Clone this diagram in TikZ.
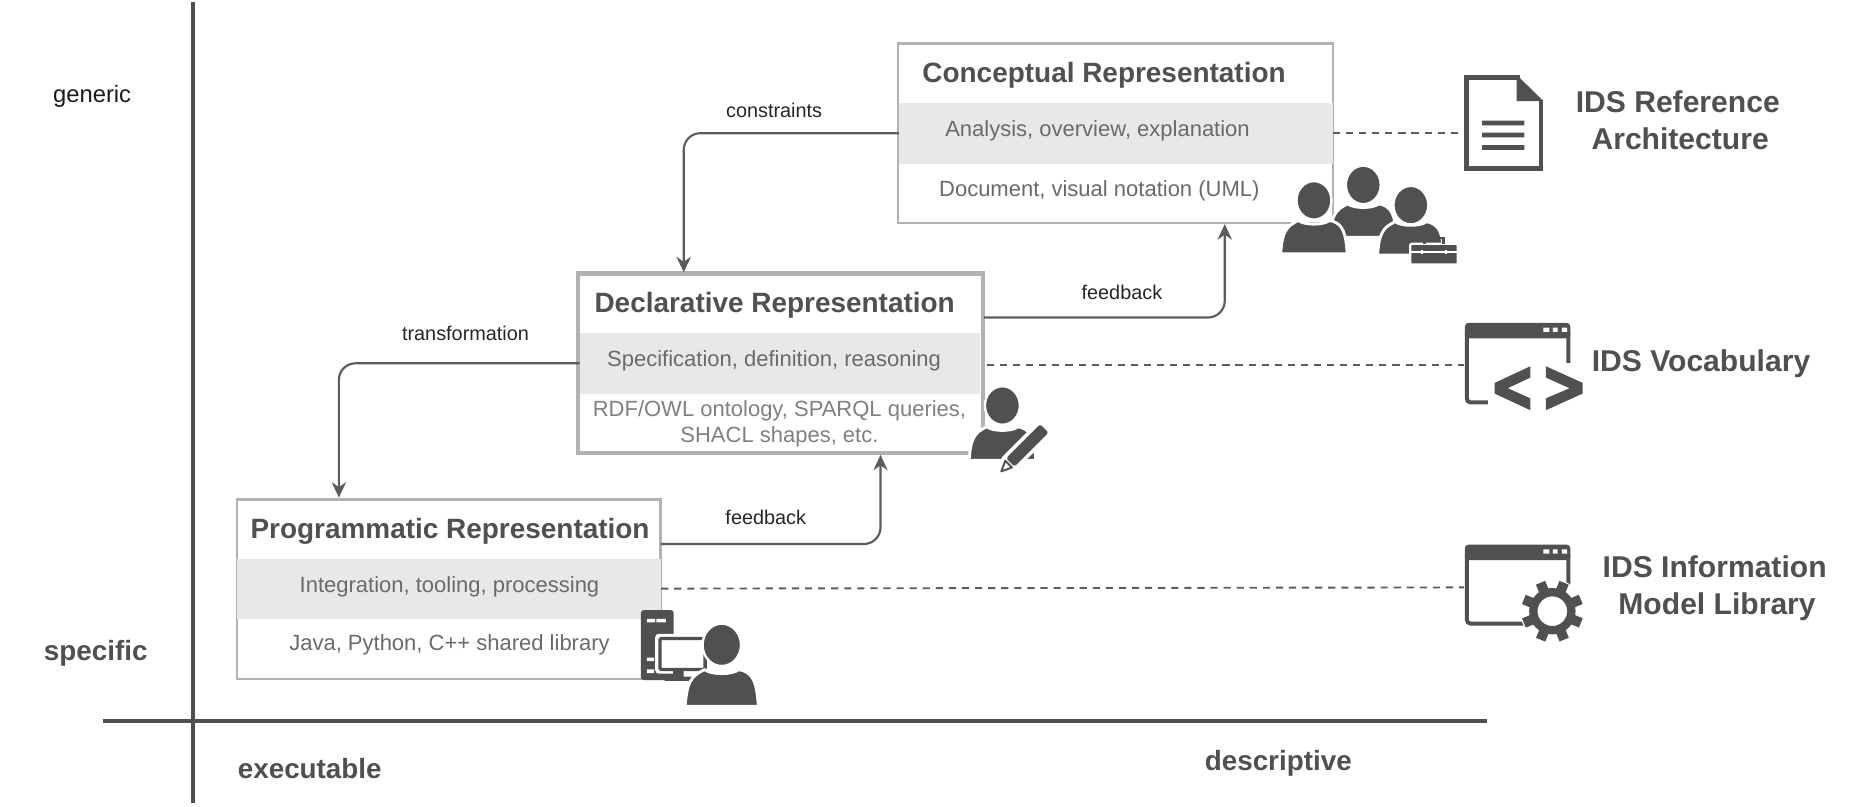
\documentclass[tikz,border=0pt]{standalone}
\usepackage{fontspec}
\setmainfont{Liberation Sans}
\usetikzlibrary{arrows.meta}
\definecolor{iconc}{HTML}{505050}
\definecolor{bandc}{HTML}{E8E8E8}
\definecolor{edgec}{HTML}{B2B2B2}
\definecolor{connc}{HTML}{5C5C5C}
\definecolor{bodyc}{HTML}{6A6A6A}
\newcommand{\fsz}[1]{\fontsize{#1}{#1}\selectfont}
\tikzset{
  repbox/.style={draw=edgec,line width=2pt,fill=white,anchor=north west,inner sep=0pt,outer sep=0pt},
  band/.style={fill=bandc,anchor=north west,inner sep=0pt,outer sep=0pt},
  title/.style={font=\fsz{23.5}\bfseries,text=iconc,inner sep=0pt},
  bodytext/.style={font=\fsz{18.5},text=bodyc,inner sep=0pt,align=center},
  edgelabel/.style={font=\fsz{16.7},text=black!85,inner sep=0pt},
  axislabel/.style={font=\fsz{23.4}\bfseries,text=iconc,inner sep=0pt},
  toollabel/.style={font=\fsz{25.3}\bfseries,text=iconc,inner sep=0pt,align=center},
  conn/.style={draw=connc,line width=1.8pt,rounded corners=14pt,-{Stealth[length=13pt,width=12pt]}},
  dashlink/.style={draw=connc,line width=1.6pt,dash pattern=on 6pt off 5pt},
  axisline/.style={draw=iconc,line width=3.4pt},
  anchorbox/.style={inner sep=0pt,outer sep=0pt},
  person/.pic={
    \path[fill=iconc,draw=white,line width=2.4pt] (-28,0) .. controls (-27,-12) and (-26,-21) .. (-17,-26) .. controls (-15,-27) and (-14,-28) .. (-13,-28) .. controls (-8,-24) and (8,-24) .. (13,-28) .. controls (15,-28) and (17,-27) .. (19,-26) .. controls (26,-22) and (27,-12) .. (28,0) -- cycle;
    \path[fill=iconc,draw=white,line width=2pt] (0,#1) ellipse [x radius=14.7,y radius=16.2];
  },
  winframe/.pic={
    \draw[iconc,line width=3.3pt,rounded corners=3pt] (1.6,8) -- (1.6,#1-1.6) -- (87,#1-1.6) -- (87,8);
    \fill[iconc,rounded corners=3pt] (0,13) -- (0,0) -- (88.6,0) -- (88.6,13) -- cycle;
    \fill[white] (66,4) rectangle (71,7.5) (74,4) rectangle (78,7.5) (81.5,4) rectangle (86,7.5);
  },
}
\begin{document}
\begin{tikzpicture}[x=1pt,y=-1pt]
\useasboundingbox (0,0) rectangle (1567.6,677.9);
% axes
\coordinate (vtop) at (162,2); \coordinate (vbot) at (162,675.5);
\coordinate (hleft) at (87,606.5); \coordinate (hright) at (1250.5,606.5);
\draw[axisline] (vtop) -- (vbot);
\draw[axisline] (hleft) -- (hright);
\node[font=\fsz{20},text=black!90,inner sep=0pt] (generic) at (77.5,81) {generic};
\node[axislabel] (specific) at (80.5,549) {specific};
\node[axislabel] (executable) at (260.5,646.5) {executable};
\node[axislabel] (descriptive) at (1075,641.5) {descriptive};
% boxes
\node[repbox,minimum width=366pt,minimum height=151pt] (concept) at (755,36.5) {};
\node[band,minimum width=365pt,minimum height=51pt] (cband) at (756,86.5) {};
\node[repbox,line width=3.4pt,minimum width=341pt,minimum height=151pt] (decl) at (486,230) {};
\node[band,minimum width=337pt,minimum height=51pt] (dband) at (487.5,280) {};
\node[repbox,minimum width=356pt,minimum height=151pt] (prog) at (199.5,420) {};
\node[band,minimum width=356pt,minimum height=50pt] (pband) at (199.5,470.5) {};
% texts
\node[title] (ctitle) at (928.5,63) {Conceptual Representation};
\node[bodytext] (ctext) at (923,110) {Analysis, overview, explanation};
\node[bodytext] (cnote) at (924.5,160.5) {Document, visual notation (UML)};
\node[title] (dtitle) at (651.5,256.5) {Declarative Representation};
\node[bodytext] (dtext) at (651,303.5) {Specification, definition, reasoning};
\node[bodytext,text=bodyc!85] (dnote) at (655.5,356.5) {RDF/OWL ontology, SPARQL queries,\\[3pt]SHACL shapes, etc.};
\node[title] (ptitle) at (378.5,446.5) {Programmatic Representation};
\node[bodytext] (ptext) at (378,493.5) {Integration, tooling, processing};
\node[bodytext] (pnote) at (378,542) {Java, Python, C++ shared library};
% edge labels
\node[edgelabel] (lconstraints) at (651,92.5) {constraints};
\node[edgelabel] (lfeedbacka) at (943.5,246) {feedback};
\node[edgelabel] (ltransform) at (391.5,280) {transformation};
\node[edgelabel] (lfeedbackb) at (644,435) {feedback};
% connector ends
\coordinate (declin) at (575,229);
\coordinate (declout) at (827.5,267);
\coordinate (conceptin) at (1030,188.5);
\coordinate (progin) at (285,418.5);
\coordinate (progout) at (555.5,457.5);
\coordinate (declinb) at (740.5,382.5);
\coordinate (docin) at (1228,112);
\coordinate (vocin) at (1231,307);
\coordinate (libin) at (1231,494);
\coordinate (declb) at (830,307);
\coordinate (progb) at (556,495);
\draw[conn] (cband.west) -| (declin);
\draw[conn] (declout) -| (conceptin);
\draw[conn] (dband.west) -| (progin);
\draw[conn] (progout) -| (declinb);
\draw[dashlink] (cband.east) -- (docin);
\draw[dashlink] (declb) -- (vocin);
\draw[dashlink] (progb) -- (libin);
% people group
\pic at (1146.5,199.5) {person=-44};
\pic at (1186.5,214.5) {person=-42};
\pic at (1105,213.5) {person=-45};
% toolbox
\path[fill=iconc,draw=white,line width=2pt,rounded corners=1pt] (1186,222.5) -- (1186,205) -- (1226,205) -- (1226,222.5) -- cycle;
\draw[iconc,line width=1.8pt] (1198,205) -- (1198,200.5) -- (1214,200.5) -- (1214,205);
\draw[white,line width=1.1pt] (1187,212) -- (1225,212);
\draw[white,line width=1.4pt] (1196,210) -- (1196,214) (1216,210) -- (1216,214);
% declarative person + pen
\pic at (843,387) {person=-46};
\begin{scope}[shift={(841.5,397)},rotate=45]
\path[draw=white,line width=5pt,line join=round] (0,0) -- (10,-5.5) -- (52,-5.5) -- (52,5.5) -- (10,5.5) -- cycle;
\fill[iconc,rounded corners=1.5pt] (11.5,-5) -- (52,-5) -- (52,5) -- (11.5,5) -- cycle;
\path[draw=iconc,fill=white,line width=1.6pt,line join=round] (0.8,0) -- (9.5,-4) -- (9.5,4) -- cycle;
\end{scope}
% programmatic: tower, monitor, person
\fill[iconc,rounded corners=2.5pt] (539,513) rectangle (566.5,572);
\fill[white] (544,520.5) rectangle (551,523.5) (552,520.5) rectangle (560,523.5);
\fill[white] (544,563) rectangle (550,566) (544,553) rectangle (550,556);
\path[fill=white,rounded corners=3pt] (551,533) rectangle (596,566.5);
\path[draw=iconc,line width=2.8pt,fill=white,rounded corners=1pt] (555,537) rectangle (593,563);
\fill[iconc] (566,563) rectangle (575,569) (559,569) rectangle (582,572.5);
\pic[scale=1.1] at (607,594) {person=-47};
% doc icon
\node[anchorbox,minimum width=67pt,minimum height=81pt] (docicon) at (1264.5,103.5) {};
\draw[iconc,line width=4pt,line join=miter] (1278,65) -- (1233,65) -- (1233,142) -- (1296,142) -- (1296,84);
\fill[iconc] (1275.5,63) -- (1298,85) -- (1275.5,85) -- cycle;
\fill[iconc] (1246.5,101.5) rectangle (1282,105.5) (1246.5,111.5) rectangle (1282,115.5) (1246.5,122) rectangle (1282,126);
\node[toollabel] (tdoc) at (1413,101) {IDS Reference\hspace*{4pt}\\[5.5pt]Architecture};
% vocabulary window
\pic at (1232,271.5) {winframe=68.5};
\path[fill=white] (1251,305) -- (1290,305) -- (1290,345) -- (1251,345) -- cycle;
\path[fill=white] (1296,305) -- (1335,305) -- (1335,345) -- (1296,345) -- cycle;
\fill[white] (1285,312) rectangle (1300,345);
\node[anchorbox,minimum width=74pt,minimum height=38pt] (vocicon) at (1294,327) {};
\fill[iconc] (1287,308) -- (1257,322) -- (1257,331) -- (1287,345) -- (1287,335) -- (1268,326.5) -- (1287,317.5) -- cycle;
\fill[iconc] (1300,308) -- (1331,322) -- (1331,331) -- (1300,345) -- (1300,335) -- (1320,326.5) -- (1300,317.5) -- cycle;
\node[toollabel] (tvoc) at (1430.5,305.5) {IDS Vocabulary};
% library window
\pic at (1232,458) {winframe=68};
\fill[white] (1305.5,514) circle [radius=27];
\node[anchorbox,minimum size=50pt] (gear) at (1305.5,514) {};
\draw[iconc,line width=7pt] (gear.center) circle [radius=16];
\foreach \a in {22.5,67.5,...,337.5}{
  \fill[iconc,rotate around={\a:(gear.center)}] ([xshift=17pt,yshift=-4.2pt]gear.center) rectangle ([xshift=26pt,yshift=4.2pt]gear.center);
}
\node[toollabel] (tlib) at (1444,494.5) {IDS Information\hspace*{4pt}\\[5.5pt]Model Library};
\end{tikzpicture}
\end{document}
